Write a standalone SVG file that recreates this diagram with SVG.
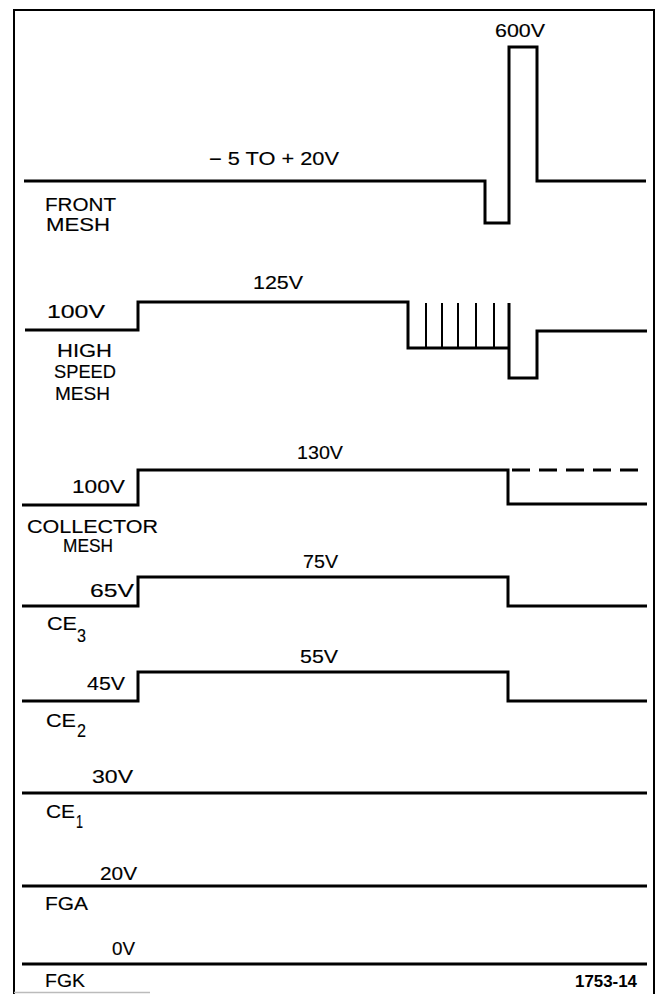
<svg xmlns="http://www.w3.org/2000/svg" width="660" height="994" viewBox="0 0 660 994">
<style>
.w{fill:none;stroke:#000;stroke-width:3;stroke-linejoin:miter;stroke-linecap:butt}
.tk{fill:none;stroke:#000;stroke-width:2}
.fr{fill:none;stroke:#000;stroke-width:2}
.t{font-family:"Liberation Sans",Arial,sans-serif;font-size:18px;fill:#000;stroke:#000;stroke-width:0.15}
.b{font-family:"Liberation Sans",Arial,sans-serif;font-size:16px;font-weight:bold;fill:#000}
</style>
<rect width="660" height="994" fill="#fff"/>
<g id="frame">
<path class="fr" d="M14,994 V10 H654 V994"/>
<path d="M14,992.5 H150" stroke="#bbb" stroke-width="1.5"/>
</g>
<g id="front-mesh">
<path class="w" d="M24,181 H485 V223 H509 V47 H537 V181 H646"/>
<text class="t" x="495" y="37" textLength="50" lengthAdjust="spacingAndGlyphs">600V</text>
<text class="t" x="209" y="165" textLength="130" lengthAdjust="spacingAndGlyphs">− 5 TO + 20V</text>
<text class="t" x="45" y="211" textLength="71" lengthAdjust="spacingAndGlyphs">FRONT</text>
<text class="t" x="46" y="231" textLength="64" lengthAdjust="spacingAndGlyphs">MESH</text>
</g>
<g id="high-speed-mesh">
<path class="w" d="M25,330 H138 V302 H408 V348 H509"/>
<path class="w" d="M509,303 V378 H537 V331 H647"/>
<path class="tk" d="M426,303 V348 M442,303 V348 M458,303 V348 M476,303 V348 M494,303 V348"/>
<text class="t" x="253" y="289" textLength="50" lengthAdjust="spacingAndGlyphs">125V</text>
<text class="t" x="47" y="318" textLength="58" lengthAdjust="spacingAndGlyphs">100V</text>
<text class="t" x="57" y="357" textLength="55" lengthAdjust="spacingAndGlyphs">HIGH</text>
<text class="t" x="54" y="378" textLength="62" lengthAdjust="spacingAndGlyphs">SPEED</text>
<text class="t" x="55" y="400" textLength="55" lengthAdjust="spacingAndGlyphs">MESH</text>
</g>
<g id="collector-mesh">
<path class="w" d="M22,505 H138 V470 H508 V504 H647"/>
<path class="w" d="M512,470 H638" stroke-dasharray="18 9"/>
<text class="t" x="297" y="459" textLength="46" lengthAdjust="spacingAndGlyphs">130V</text>
<text class="t" x="72" y="493" textLength="53" lengthAdjust="spacingAndGlyphs">100V</text>
<text class="t" x="27" y="533" textLength="131" lengthAdjust="spacingAndGlyphs">COLLECTOR</text>
<text class="t" x="63" y="552" textLength="50" lengthAdjust="spacingAndGlyphs">MESH</text>
</g>
<g id="ce3">
<path class="w" d="M22,606 H138 V577 H508 V606 H647"/>
<text class="t" x="303" y="568" textLength="35" lengthAdjust="spacingAndGlyphs">75V</text>
<text class="t" x="90" y="597" textLength="44" lengthAdjust="spacingAndGlyphs">65V</text>
<text class="t" x="47" y="630" textLength="30" lengthAdjust="spacingAndGlyphs">CE</text>
<text class="t" x="77" y="642" textLength="9" lengthAdjust="spacingAndGlyphs">3</text>
</g>
<g id="ce2">
<path class="w" d="M22,701 H138 V672 H508 V701 H647"/>
<text class="t" x="300" y="663" textLength="38" lengthAdjust="spacingAndGlyphs">55V</text>
<text class="t" x="87" y="690" textLength="38" lengthAdjust="spacingAndGlyphs">45V</text>
<text class="t" x="46" y="727" textLength="30" lengthAdjust="spacingAndGlyphs">CE</text>
<text class="t" x="77" y="737" textLength="9" lengthAdjust="spacingAndGlyphs">2</text>
</g>
<g id="ce1">
<path class="w" d="M22,793 H647"/>
<text class="t" x="92" y="783" textLength="41" lengthAdjust="spacingAndGlyphs">30V</text>
<text class="t" x="46" y="818" textLength="29" lengthAdjust="spacingAndGlyphs">CE</text>
<text class="t" x="76" y="828" textLength="7" lengthAdjust="spacingAndGlyphs">1</text>
</g>
<g id="fga">
<path class="w" d="M22,886 H647"/>
<text class="t" x="100" y="880" textLength="37" lengthAdjust="spacingAndGlyphs">20V</text>
<text class="t" x="45" y="910" textLength="43" lengthAdjust="spacingAndGlyphs">FGA</text>
</g>
<g id="fgk">
<path class="w" d="M22,964 H647"/>
<text class="t" x="112" y="955" textLength="23" lengthAdjust="spacingAndGlyphs">0V</text>
<text class="t" x="45" y="987" textLength="40" lengthAdjust="spacingAndGlyphs">FGK</text>
<text class="b" x="575" y="987" textLength="62" lengthAdjust="spacingAndGlyphs">1753-14</text>
</g>
</svg>
